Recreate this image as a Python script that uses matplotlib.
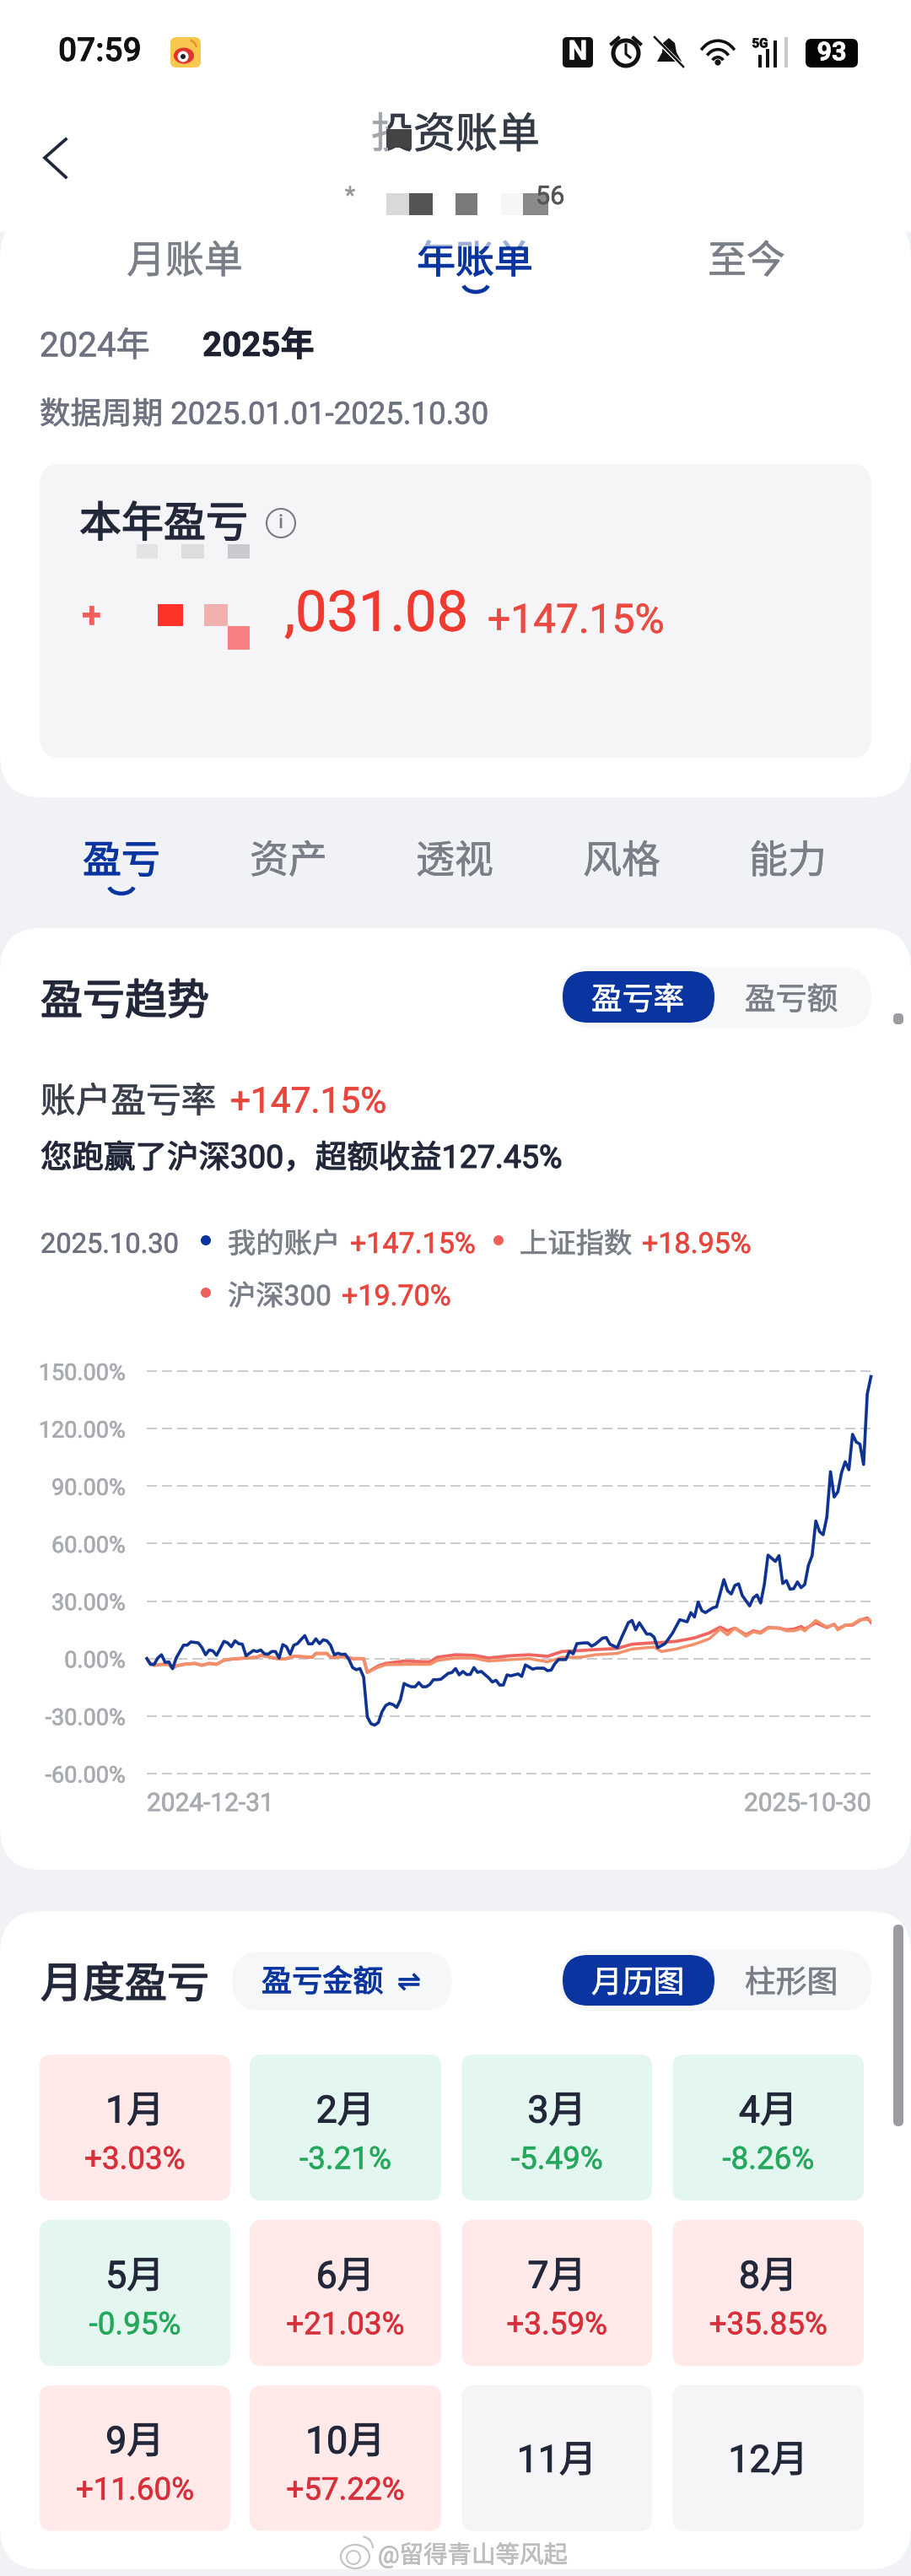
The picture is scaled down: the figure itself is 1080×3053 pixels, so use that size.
import matplotlib
matplotlib.use('Agg')
import matplotlib.pyplot as plt
import matplotlib.patheffects as pe
from matplotlib.patches import FancyBboxPatch, Circle, Arc, Rectangle, Ellipse, Polygon

plt.rcParams['font.family'] = ['Roboto', 'Noto Sans CJK SC', 'DejaVu Sans']

W, H = 1080, 3053

BLUE = '#0A35A0'
DARK = '#22283A'
GRAY = '#7A7E87'
GRAY2 = '#6E7280'
RED = '#E8453C'

# --- chart data (trading session, percent) ---
acct_days = [0, 1, 2, 3, 4, 5, 6, 7, 8, 10, 11, 12, 14, 15, 16, 17, 18, 19, 21, 22, 23, 24, 25, 26, 27, 29, 30, 31,
             32, 33, 34, 35, 36, 37, 38, 39, 40, 41, 42, 43, 44, 45, 46, 47, 48, 49, 50, 51, 52, 53, 54, 55, 56, 57,
             58, 59, 60, 61, 62, 63, 64, 65, 66, 67, 68, 69, 70, 71, 72, 73, 74, 75, 76, 77, 78, 79, 80, 82, 83, 84,
             85, 86, 87, 88, 89, 90, 91, 93, 94, 95, 96, 97, 98, 99, 101, 102, 103, 105, 106, 108, 109, 110, 111, 112,
             114, 115, 116, 117, 119, 120, 121, 122, 124, 125, 126, 128, 129, 131, 132, 133, 134, 136, 137, 138, 139,
             141, 143, 145, 147, 148, 149, 150, 151, 152, 154, 155, 157, 158, 159, 160, 161, 162, 164, 165, 166, 167,
             168, 169, 171, 172, 173, 174, 175, 176, 177, 178, 179, 180, 181, 182, 183, 184, 185, 186, 187, 188, 189,
             190, 191, 192, 193, 194, 195, 196, 197]
acct_pct = [0, -3, -3, 0.3, 2, -2, -1.7, -5.3, 0.3, 7, 7, 8.7, 8.2, 5.8, 2, 4.5, 4, 1.7, 9, 8.2, 6.2, 9.3, 7.8, 7.5, 1.5,
            4.2, 3.7, 4.5, 2.5, 2.3, 3.7, 3.7, 0.3, 7.3, 6.2, 2.3, 7, 7.8, 10, 12, 7.7, 7.7, 10.3, 7.8, 9.8, 9.3, 7, 2,
            2.8, 2.2, 2.3, -0.5, -4.7, -5.8, -5.2, -9.7, -30.5, -34, -34.7, -33.4, -27.7, -24.5, -23.4, -24, -25.5,
            -21.5, -13, -14, -14.7, -14.7, -12.5, -14.7, -14.7, -13.5, -11, -11, -10.8, -7.7, -7.3, -5.2, -8.5, -6.7,
            -8.3, -8.3, -4.7, -7.2, -6.7, -10, -12.2, -11.3, -13.8, -13.8, -8.5, -9, -8, -9.3, -3.3, -5.5, -5, -5, -6.3,
            -6, -2.7, -0.5, -0.5, 3.7, 2.5, 7.8, 8.2, 8.2, 6.5, 7.5, 10.7, 11, 7.5, 5.7, 10.3, 18.7, 19.9, 15, 18.7,
            12.8, 12.8, 11.2, 5.7, 7.8, 13.2, 20.3, 19.2, 24, 21.7, 29.5, 25, 24, 26.5, 27, 41.2, 35.4, 33.7, 38.2, 39,
            32.9, 27.5, 31.7, 33.2, 29, 38.7, 54, 50.7, 53.7, 39.2, 40.7, 36.2, 36.5, 40, 37, 38.7, 48.7, 53.7, 71.8,
            66.3, 64.6, 73.8, 97.5, 84.3, 87, 97, 102.7, 98.5, 117, 113, 111.9, 101.3, 138, 147.15]

index_days = [0, 1, 2, 4, 6, 7, 8, 10, 13, 15, 17, 19, 21, 23, 25, 27, 30, 31, 33, 36, 38, 40, 42, 45, 46, 49, 50, 54, 56,
              59, 60, 63, 65, 70, 77, 79, 84, 89, 93, 99, 104, 109, 113, 118, 122, 128, 132, 138, 140, 144, 149, 153,
              156, 158, 160, 163, 165, 167, 169, 172, 174, 176, 178, 179, 182, 185, 187, 188, 190, 192, 194, 196, 197]
sh_pct = [0, -2.7, -3.5, -3, -3, -5, -3.8, -3, -2.5, -3.5, -2.5, -3, -0.8, -0.3, 0, 0.3, 0.7, 1.7, 1, -0.2, 0, 1.3, 1, 0.7,
          2.7, 2.7, 0.7, 1, 0, 0, -7.2, -3.8, -2.5, -1.3, -1.7, 0.7, 2, 1.7, 0.3, 1.5, 2, 1.2, 3.7, 4.2, 4.7, 5.3, 7.5,
          8.3, 8.4, 9, 10.8, 13.4, 16.4, 14.5, 15.9, 12.4, 14.5, 13.7, 16.2, 15.9, 15, 15.4, 16.7, 15.4, 18.7, 16.2,
          17.9, 15.4, 17.4, 17.5, 20, 21.2, 18.95]
csi_pct = [0, -2.7, -3.5, -3, -3, -5, -3.8, -3, -2.5, -3.5, -2.5, -3, -0.8, -0.3, 0, 0.3, 0.7, 1.7, 1, -0.2, 0, 1.3, 1, 0.7,
           2.7, 2.7, 0.7, 1, 0, 0, -7.2, -4.5, -3.2, -3, -3, -1, 0.3, 0.3, -1.3, -0.5, 0, -1.7, 0.7, 0.7, 2, 2.7, 5, 6,
           3.7, 5, 7.5, 10.3, 15.4, 12.4, 15.9, 11.7, 14, 13.2, 15.9, 16, 14.5, 14.5, 15.7, 14.5, 19.9, 16.5, 17.9, 15,
           17.4, 17.9, 20.4, 20.4, 19.7]

y_ticks = [150, 120, 90, 60, 30, 0, -30, -60]
y_tick_labels = ['150.00%', '120.00%', '90.00%', '60.00%', '30.00%', '0.00%', '-30.00%', '-60.00%']
x_tick_labels = ['2024-12-31', '2025-10-30']

months = ['1月', '2月', '3月', '4月', '5月', '6月', '7月', '8月', '9月', '10月', '11月', '12月']
month_pct = ['+3.03%', '-3.21%', '-5.49%', '-8.26%', '-0.95%', '+21.03%', '+3.59%', '+35.85%', '+11.60%', '+57.22%',
             None, None]

top_tabs = ['月账单', '年账单', '至今']
mid_tabs = ['盈亏', '资产', '透视', '风格', '能力']

fig = plt.figure(figsize=(W / 100, H / 100), dpi=100, facecolor='#F0F2F6')
ui = fig.add_axes([0, 0, 1, 1])
ui.set_xlim(0, W)
ui.set_ylim(H, 0)
ui.axis('off')


def box(x0, y0, x1, y1, r, color, z=1, **kw):
    p = FancyBboxPatch((x0, y0), x1 - x0, y1 - y0, boxstyle='round,pad=0,rounding_size=%g' % r,
                       facecolor=color, edgecolor='none', zorder=z, **kw)
    ui.add_patch(p)


def rect(x0, y0, x1, y1, color, alpha=1, z=3):
    ui.add_patch(Rectangle((x0, y0), x1 - x0, y1 - y0, facecolor=color, edgecolor='none', alpha=alpha, zorder=z))


def txt(x, y, s, size, color=DARK, ha='left', weight='normal', stroke=0.45, **kw):
    # y is where the glyphs should sit; matplotlib's centre runs a bit high, hence the nudge
    t = ui.text(x, y + 0.2 * size, s, fontsize=size, color=color, ha=ha, va='center', fontweight=weight, zorder=5, **kw)
    t.set_path_effects([pe.withStroke(linewidth=stroke, foreground=color)])
    return t


def smile(cx, cy):
    ui.add_patch(Arc((cx, cy), 30, 20, theta1=10, theta2=170, color=BLUE, lw=3.4, zorder=5))


# --- cards ---
rect(0, 0, W, 275, 'white', z=0.5)
box(0, 255, W, 945, 50, 'white')
box(0, 1100, W, 2216, 50, 'white')
box(0, 2265, W, 3045, 50, 'white')

# --- status bar ---
txt(69, 56, '07:59', 28, '#111111', weight='medium')
box(202, 44, 238, 80, 7, '#F6C94E', z=2)
ui.add_patch(Ellipse((218, 66), 24, 19, facecolor='#E0342C', edgecolor='none', zorder=3))
ui.add_patch(Circle((217, 67), 6.5, facecolor='white', zorder=4))
ui.add_patch(Circle((217, 67), 3, facecolor='#222222', zorder=4))
ui.add_patch(Arc((222, 58), 22, 22, theta1=-70, theta2=-10, color='#E98A1E', lw=1.6, zorder=4))

box(667, 44, 703, 80, 5, '#111111', z=2)
txt(685, 57, 'N', 23, 'white', ha='center', weight='bold')
ui.add_patch(Circle((742, 63), 15, facecolor='none', edgecolor='#111111', lw=3.6, zorder=3))
ui.plot([742, 742, 747], [53, 64, 68], color='#111111', lw=2.2, zorder=3)
ui.plot([725, 733], [52, 45], color='#111111', lw=3, zorder=3)
ui.plot([751, 759], [45, 52], color='#111111', lw=3, zorder=3)
ui.add_patch(Polygon([[779, 73], [785, 62], [786, 51], [793, 45], [800, 51], [802, 62], [808, 73]], facecolor='#111111', zorder=3))
ui.plot([775, 811], [44, 80], color='white', lw=3.4, zorder=4)
ui.plot([776, 810], [44, 79], color='#111111', lw=1.8, zorder=4)
for d, th in [(50, 2.6), (32, 2.6), (16, 2.6)]:
    ui.add_patch(Arc((851, 77), d, d * 1.15, theta1=222, theta2=318, color='#111111', lw=th, zorder=3))
ui.add_patch(Circle((851, 74), 3.6, facecolor='#111111', zorder=3))
txt(901, 50, '5G', 11, '#111111', ha='center', weight='bold')
for bx, h, c in zip([901, 910, 919, 932], [15, 22, 32, 36], ['#111111', '#111111', '#111111', '#C8C8C8']):
    rect(bx - 2, 80 - h, bx + 2, 80, c)
box(955, 46, 1017, 80, 7, '#050505', z=2)
txt(986, 58, '93', 22, 'white', ha='center', weight='bold')

# --- header ---
txt(540, 154, '投资账单', 36, '#333A45', ha='center')
rect(430, 130, 460, 180, 'white', alpha=0.55, z=6)
rect(458, 153, 488, 175, '#444444', z=6)
ui.plot([78, 53, 78], [165, 187, 210], color='#20283A', lw=2.7, solid_joinstyle='miter')
txt(415, 229, '*', 20, '#999999', ha='center')
txt(635, 229, '56', 22, '#555555')
for x0, x1, c in [(458, 485, '#D9D9D9'), (485, 513, '#555555'), (540, 566, '#7A7A7A'), (594, 620, '#F6F6F6'),
                  (620, 650, '#8A8A8A')]:
    rect(x0, 229, x1, 255, c)

for s, cx, c in zip(top_tabs, [219, 563, 885], [GRAY, BLUE, GRAY]):
    txt(cx, 304, s, 33, c, ha='center', stroke=0.9 if c == BLUE else 0.45)
rect(490, 280, 640, 292, 'white', alpha=0.6, z=6)
smile(564, 336)

txt(47, 405, '2024年', 29, GRAY2)
txt(240, 405, '2025年', 29, '#1E2230', weight='bold')
txt(47, 487, '数据周期 2025.01.01-2025.10.30', 26.3, GRAY2)

# --- year summary panel ---
box(47, 550, 1033, 898, 24, '#F5F5F7', z=2)
for x0, x1 in [(110, 130), (150, 170), (190, 245), (315, 350), (370, 420), (480, 500)]:
    rect(x0, 815, x1, 860, '#F6F6F8', z=2.5)
txt(94, 615, '本年盈亏', 36, DARK, stroke=1.1)
ui.add_patch(Circle((333, 620), 17, facecolor='none', edgecolor='#777B84', lw=1.5, zorder=4))
txt(333, 617, 'i', 16, '#777B84', ha='center')
for x0, x1, c in [(162, 187, '#E4E4E7'), (215, 242, '#DDDDE0'), (270, 296, '#C9CACD')]:
    rect(x0, 645, x1, 662, c)
txt(97, 725, '+', 30, '#F0605A', weight='bold')
rect(187, 716, 217, 742, '#FF3428')
rect(242, 716, 270, 742, '#EFB0AE')
rect(270, 742, 296, 770, '#F98080')
txt(337, 720, ',031.08', 48, '#F03A30')
txt(578, 730, '+147.15%', 34.5, '#EA4A42')

for s, cx, c in zip(mid_tabs, [144, 342, 539, 737, 934], [BLUE, GRAY, GRAY, GRAY, GRAY]):
    txt(cx, 1015, s, 33, c, ha='center', stroke=0.9 if c == BLUE else 0.45)
smile(144, 1049)

# --- trend card ---
txt(48, 1181, '盈亏趋势', 36, DARK, stroke=1.1)
box(665, 1146, 1033, 1218, 36, '#F6F7F9', z=2)
box(667, 1151, 847, 1212, 30, BLUE, z=3)
txt(756, 1181, '盈亏率', 26.5, 'white', ha='center')
txt(938, 1181, '盈亏额', 26.5, GRAY, ha='center')
box(1059, 1201, 1071, 1214, 5, '#9A9CA0', z=3)

txt(48, 1301, '账户盈亏率', 30, '#3A3F4C')
txt(273, 1301, '+147.15%', 30.5, RED)
txt(48, 1368, '您跑赢了沪深300，超额收益127.45%', 27, DARK, stroke=0.9)

txt(48, 1471, '2025.10.30', 23.5, GRAY2)
ui.add_patch(Circle((244, 1470), 6, facecolor=BLUE, zorder=4))
txt(270, 1471, '我的账户', 24, GRAY)
txt(415, 1471, '+147.15%', 24.5, RED)
ui.add_patch(Circle((591, 1470), 6, facecolor='#F0605A', zorder=4))
txt(616, 1471, '上证指数', 24, GRAY)
txt(761, 1471, '+18.95%', 24.5, RED)
ui.add_patch(Circle((244, 1532), 6, facecolor='#F0605A', zorder=4))
txt(270, 1533, '沪深300', 24, GRAY)
txt(405, 1533, '+19.70%', 24.5, RED)

# --- the chart ---
ax = fig.add_axes([174 / W, 1 - 2102 / H, (1032.5 - 174) / W, (2102 - 1625) / H])
ax.patch.set_alpha(0)
ax.plot(index_days, sh_pct, color='#F0665E', lw=2.7, zorder=3, solid_joinstyle='round')
ax.plot(index_days, csi_pct, color='#F2906A', lw=2.5, zorder=3.1, solid_joinstyle='round')
ax.plot(acct_days, acct_pct, color='#0F3390', lw=2.6, zorder=3.2, solid_joinstyle='round', clip_on=False)
ax.set_xlim(0, 197)
ax.set_ylim(-60, 150)
ax.set_yticks(y_ticks)
ax.set_yticklabels(y_tick_labels, fontsize=19.5, color='#A8ABB0')
ax.set_xticks([0, 197])
ax.set_xticklabels(x_tick_labels, fontsize=21.5, color='#A8ABB0')
ax.get_xticklabels()[0].set_ha('left')
ax.get_xticklabels()[1].set_ha('right')
ax.tick_params(axis='y', length=0, pad=18)
ax.tick_params(axis='x', length=0, pad=16)
for lab in ax.get_xticklabels() + ax.get_yticklabels():
    lab.set_path_effects([pe.withStroke(linewidth=0.5, foreground='#A8ABB0')])
ax.yaxis.grid(True, color='#CDCDCF', lw=1.44, linestyle=(0, (6, 3)), clip_on=False)
ax.set_axisbelow(True)
for sp in ax.spines.values():
    sp.set_visible(False)

# --- monthly card ---
txt(48, 2346, '月度盈亏', 36, DARK, stroke=1.1)
box(275, 2313, 536, 2383, 35, '#F6F7F9', z=2)
txt(310, 2345, '盈亏金额', 26, BLUE, stroke=0.8)
txt(485, 2345, '⇌', 24, BLUE, ha='center', family='DejaVu Sans')
box(665, 2311, 1033, 2383, 36, '#F6F7F9', z=2)
box(667, 2317, 847, 2377, 30, BLUE, z=3)
txt(756, 2346, '月历图', 26.5, 'white', ha='center')
txt(938, 2346, '柱形图', 26.5, GRAY, ha='center')
box(1059, 2281, 1071, 2520, 6, '#9A9CA0', z=3)

cell_x = [(47, 273), (296, 523), (547.5, 773), (797.5, 1024)]
cell_y = [(2435, 2608), (2631, 2804), (2827, 2999.5)]
for i, (m, p) in enumerate(zip(months, month_pct)):
    x0, x1 = cell_x[i % 4]
    y0, y1 = cell_y[i // 4]
    cx = (x0 + x1) / 2
    if p is None:
        box(x0, y0, x1, y1, 14, '#F5F5F7', z=2)
        txt(cx, (y0 + y1) / 2 - 2, m, 32, DARK, ha='center', stroke=0.8)
        continue
    up = p.startswith('+')
    box(x0, y0, x1, y1, 14, '#FFE9E9' if up else '#E3F6EF', z=2)
    txt(cx, y0 + 62, m, 32, DARK, ha='center', stroke=0.8)
    txt(cx, y0 + 120, p, 26.5, '#D8303A' if up else '#25A85C', ha='center')

# --- watermark ---
ui.add_patch(Ellipse((421, 3030), 34, 28, facecolor='none', edgecolor='#C4C4C4', lw=1.6, zorder=6))
ui.add_patch(Circle((419, 3031), 8, facecolor='none', edgecolor='#C4C4C4', lw=1.4, zorder=6))
ui.add_patch(Arc((428, 3020), 28, 28, theta1=-80, theta2=0, color='#C4C4C4', lw=1.6, zorder=6))
txt(448, 3024, '@留得青山等风起', 20.5, '#BDBDBD')

fig.savefig('out.png', dpi=100)
